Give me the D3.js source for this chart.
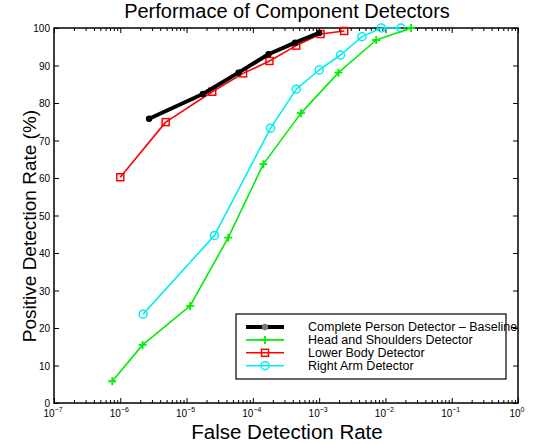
<!DOCTYPE html>
<html>
<head>
<meta charset="utf-8">
<script src="https://cdn.jsdelivr.net/npm/d3@7"></script>
<style>
  body { margin: 0; background: #fff; }
  text { font-family: "Liberation Sans", Arial, sans-serif; }
</style>
</head>
<body>
<script>
// series
var baselineFDR = [2.72e-6, 1.76e-5, 6.07e-5, 1.72e-4, 4.34e-4, 1.0e-3];
var baselinePDR = [75.8, 82.4, 88.1, 93.0, 96.1, 98.7];

var headFDR = [7.57e-7, 2.17e-6, 1.13e-5, 4.25e-5, 1.44e-4, 5.32e-4, 1.96e-3, 7.26e-3, 2.44e-2];
var headPDR = [5.8, 15.5, 25.9, 44.1, 63.7, 77.3, 88.1, 96.8, 100];

var lowerFDR = [1.0e-6, 4.84e-6, 2.44e-5, 7.13e-5, 1.78e-4, 4.52e-4, 1.05e-3, 2.39e-3];
var lowerPDR = [60.2, 74.9, 83.0, 87.9, 91.2, 95.3, 98.4, 99.2];

var armFDR = [2.21e-6, 2.64e-5, 1.85e-4, 4.52e-4, 1.0e-3, 2.1e-3, 4.42e-3, 8.69e-3, 1.71e-2];
var armPDR = [23.7, 44.7, 73.3, 83.7, 88.8, 92.8, 97.7, 100, 100];

var seriesNames = ["Complete Person Detector \u2013 Baseline", "Head and Shoulders Detector",
                   "Lower Body Detector", "Right Arm Detector"];
var yTicks = [0, 10, 20, 30, 40, 50, 60, 70, 80, 90, 100];
var xExponents = [-7, -6, -5, -4, -3, -2, -1, 0];

var W = 535, H = 444;
var pL = 54, pR = 518, pT = 28, pB = 403;

var svg = d3.select('body').append('svg')
    .attr('width', W)
    .attr('height', H);

var x = d3.scaleLog().domain([1e-7, 1]).range([pL, pR]);
var y = d3.scaleLinear().domain([0, 100]).range([pB, pT]);

// minor + major log ticks
var minor = [];
for (var e = -7; e < 0; e++) {
    for (var m = 2; m <= 9; m++) minor.push(m * Math.pow(10, e));
}
var major = xExponents.map(function(e) { return Math.pow(10, e); });

function tickAxis(axis, vals, size) {
    return axis.tickValues(vals).tickSize(size).tickFormat('');
}

var g = svg.append('g');
g.append('g').attr('transform', 'translate(0,' + pB + ')')
    .call(tickAxis(d3.axisTop(x), minor, 3));
g.append('g').attr('transform', 'translate(0,' + pB + ')')
    .call(tickAxis(d3.axisTop(x), major, 5));
g.append('g').attr('transform', 'translate(0,' + pT + ')')
    .call(tickAxis(d3.axisBottom(x), minor, 3));
g.append('g').attr('transform', 'translate(0,' + pT + ')')
    .call(tickAxis(d3.axisBottom(x), major, 5));
g.append('g').attr('transform', 'translate(' + pL + ',0)')
    .call(tickAxis(d3.axisRight(y), yTicks, 5));
g.append('g').attr('transform', 'translate(' + pR + ',0)')
    .call(tickAxis(d3.axisLeft(y), yTicks, 5));
g.selectAll('.domain').remove();
g.selectAll('.tick line').attr('stroke', '#000').attr('stroke-width', 1);

svg.append('rect')
    .attr('x', pL).attr('y', pT)
    .attr('width', pR - pL).attr('height', pB - pT)
    .attr('fill', 'none').attr('stroke', '#000').attr('stroke-width', 1.5);

// y tick labels
svg.selectAll('.ylab').data(yTicks).enter().append('text')
    .attr('x', pL - 4)
    .attr('y', function(d) { return y(d) + 4; })
    .attr('text-anchor', 'end')
    .style('font-size', '10px')
    .text(function(d) { return d; });

// x tick labels with superscripts
var xl = svg.selectAll('.xlab').data(xExponents).enter().append('text')
    .attr('x', function(d) { return x(Math.pow(10, d)) - 1; })
    .attr('y', pB + 14)
    .attr('text-anchor', 'middle')
    .style('font-size', '10px');
xl.append('tspan').text('10');
xl.append('tspan').attr('dy', -5).style('font-size', '7px')
    .text(function(d) { return d < 0 ? '\u2212' + (-d) : d; });

// titles
svg.append('text').attr('x', 287).attr('y', 18).attr('text-anchor', 'middle')
    .style('font-size', '20px').text('Performace of Component Detectors');
svg.append('text').attr('x', 287).attr('y', 439).attr('text-anchor', 'middle')
    .style('font-size', '20.5px').text('False Detection Rate');
svg.append('text').attr('transform', 'translate(36,226) rotate(-90)')
    .attr('text-anchor', 'middle')
    .style('font-size', '19px').text('Positive Detection Rate (%)');

var series = [
    { name: seriesNames[0], xs: baselineFDR, ys: baselinePDR, color: '#000', width: 4, marker: 'dot' },
    { name: seriesNames[1], xs: headFDR, ys: headPDR, color: '#00ee00', width: 1.6, marker: 'plus' },
    { name: seriesNames[2], xs: lowerFDR, ys: lowerPDR, color: '#ff0000', width: 1.6, marker: 'square' },
    { name: seriesNames[3], xs: armFDR, ys: armPDR, color: '#00eeee', width: 1.6, marker: 'circle' }
];

var line = d3.line()
    .x(function(d) { return x(d[0]); })
    .y(function(d) { return y(d[1]); });

function drawMarker(sel, s, px, py, col) {
    if (s.marker === 'dot') {
        sel.append('circle').attr('cx', px).attr('cy', py).attr('r', 3.2).attr('fill', col || s.color);
    } else if (s.marker === 'plus') {
        sel.append('path')
            .attr('d', 'M' + (px - 4) + ',' + py + 'H' + (px + 4) + 'M' + px + ',' + (py - 4) + 'V' + (py + 4))
            .attr('stroke', s.color).attr('stroke-width', 1.8);
    } else if (s.marker === 'square') {
        sel.append('rect').attr('x', px - 3.5).attr('y', py - 3.5).attr('width', 7).attr('height', 7)
            .attr('fill', 'none').attr('stroke', s.color).attr('stroke-width', 1.5);
    } else {
        sel.append('circle').attr('cx', px).attr('cy', py).attr('r', 4)
            .attr('fill', 'none').attr('stroke', s.color).attr('stroke-width', 1.5);
    }
}

// draw in back-to-front order so baseline sits over red
[3, 1, 2, 0].forEach(function(i) {
    var s = series[i];
    var pts = d3.zip(s.xs, s.ys);
    var gs = svg.append('g');
    gs.append('path').datum(pts)
        .attr('d', line)
        .attr('fill', 'none')
        .attr('stroke', s.color)
        .attr('stroke-width', s.width)
        .attr('stroke-linejoin', 'round');
    pts.forEach(function(p) { drawMarker(gs, s, x(p[0]), y(p[1])); });
});

// legend (text runs past the box edge like the original)
var lg = svg.append('g');
lg.append('rect').attr('x', 236).attr('y', 314).attr('width', 270).attr('height', 65)
    .attr('fill', '#fff').attr('stroke', '#000').attr('stroke-width', 1.2);
series.forEach(function(s, i) {
    var ly = 327 + i * 12.9;
    lg.append('line').attr('x1', 246).attr('x2', 284).attr('y1', ly).attr('y2', ly)
        .attr('stroke', s.color).attr('stroke-width', s.width);
    drawMarker(lg, s, 265, ly, s.marker === 'dot' ? '#777' : null);
    lg.append('text').attr('x', 308).attr('y', ly + 4)
        .style('font-size', '12.5px').text(s.name);
});
</script>
</body>
</html>
